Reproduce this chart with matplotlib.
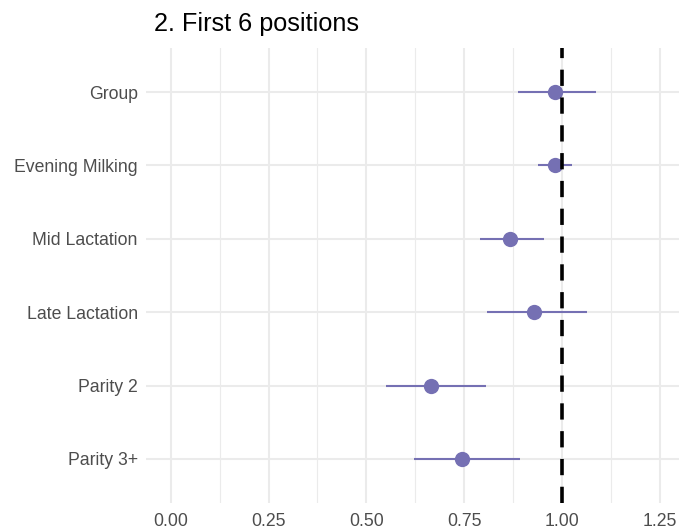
import matplotlib
matplotlib.use("Agg")
import matplotlib.pyplot as plt
import numpy as np

plt.rcParams['font.family'] = ['Liberation Sans', 'DejaVu Sans']

categories = ["Parity 3+", "Parity 2", "Late Lactation", "Mid Lactation", "Evening Milking", "Group"]
estimate = [0.745, 0.665, 0.927, 0.867, 0.981, 0.981]
ci_low = [0.621, 0.549, 0.808, 0.790, 0.939, 0.887]
ci_high = [0.892, 0.805, 1.064, 0.953, 1.026, 1.086]
x_ticks = [0.00, 0.25, 0.50, 0.75, 1.00, 1.25]
x_ticklabels = ["0.00", "0.25", "0.50", "0.75", "1.00", "1.25"]
title = "2. First 6 positions"

W, H = 679, 529
fig = plt.figure(figsize=(W / 100, H / 100), dpi=100)
left, right, top, bottom = 146, 679, 48, 503
ax = fig.add_axes([left / W, 1 - bottom / H, (right - left) / W, (bottom - top) / H])

color = "#7570B3"
y = np.arange(len(categories))
ax.hlines(y, ci_low, ci_high, color=color, linewidth=1.5, zorder=3)
ax.plot(estimate, y, 'o', color=color, markersize=11, markeredgewidth=0, zorder=4)
ax.axvline(1.0, color="black", linestyle=(0, (4.5, 3.2)), linewidth=2.6, zorder=5)

ax.set_ylim(-0.6, len(categories) - 1 + 0.6)
x0 = 170.7
scale = (660 - x0) / 1.25
ax.set_xlim((left - x0) / scale, (right - x0) / scale)
ax.set_yticks(y)
ax.set_yticklabels(categories)
ax.set_xticks(x_ticks)
ax.set_xticklabels(x_ticklabels)
ax.set_xticks(np.arange(0.125, 1.3, 0.25), minor=True)

for s in ax.spines.values():
    s.set_visible(False)
ax.grid(True, which='major', color="#EBEBEB", linewidth=1.5, zorder=0)
ax.grid(True, which='minor', axis='x', color="#EBEBEB", linewidth=0.8, zorder=0)
ax.set_axisbelow(True)
ax.tick_params(axis='both', which='both', length=0, labelsize=12.7, labelcolor="#4D4D4D")
ax.tick_params(axis='y', pad=6)
ax.tick_params(axis='x', pad=7)

fig.text(154 / W, 1 - 24 / H, title, fontsize=18.2, ha='left', va='center', color='black')

fig.savefig("out.png", dpi=100)
